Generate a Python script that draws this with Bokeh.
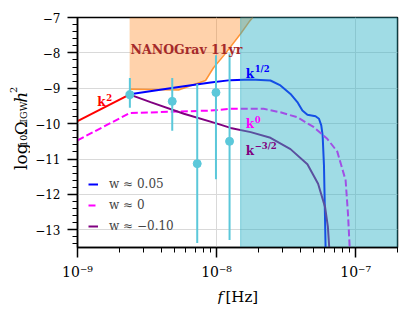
import math
from bokeh.plotting import figure
from bokeh.layouts import row, column
from bokeh.models import (Range1d, Label, Legend, LegendItem, CustomJSTickFormatter,
                          SingleIntervalTicker, LogTicker)
from bokeh.embed import file_html
from bokeh.resources import INLINE

# ---------------- data ----------------
# NANOGrav 11yr bound (lower edge of excluded region)
nano_f = [2.37e-9, 5.33e-9, 8.34e-9, 9.51e-9, 1.13e-8, 1.49e-8, 1.71e-8, 1.82e-8]
nano_y = [-9.03, -9.05, -8.78, -8.42, -8.07, -7.46, -7.13, -7.0]

# k^2 rise
red_f = [1.0e-9, 2.38e-9]
red_y = [-9.93, -9.17]

# w ~ 0.05
blue_f = [2.38e-9, 5.50e-9, 9.06e-9, 1.26e-8, 1.76e-8, 2.44e-8, 2.88e-8, 3.40e-8, 3.81e-8,
          4.14e-8, 4.50e-8, 5.15e-8, 5.45e-8, 5.66e-8, 5.79e-8, 5.92e-8, 6.08e-8]
blue_y = [-9.17, -8.96, -8.84, -8.77, -8.75, -8.78, -8.92, -9.16, -9.39,
          -9.63, -9.75, -9.79, -9.86, -10.05, -10.33, -11.18, -13.5]

# w ~ 0
mag_f = [1.0e-9, 2.38e-9, 9.06e-9, 1.26e-8, 2.18e-8, 2.88e-8, 3.81e-8, 5.01e-8, 6.25e-8,
         7.38e-8, 8.47e-8, 8.81e-8, 9.06e-8]
mag_y = [-10.47, -9.70, -9.63, -9.58, -9.58, -9.68, -9.82, -10.10, -10.43,
         -10.79, -11.6, -12.55, -13.5]

# w ~ -0.10
pur_f = [2.38e-9, 3.35e-9, 5.82e-9, 1.01e-8, 1.26e-8, 1.76e-8, 2.44e-8, 3.40e-8, 4.50e-8,
         5.37e-8, 6.03e-8, 6.31e-8, 6.46e-8]
pur_y = [-9.18, -9.39, -9.72, -10.00, -10.12, -10.24, -10.40, -10.72, -11.15,
         -11.7, -12.36, -12.9, -13.5]

# NANOGrav data points with error bars
pt_f = [2.38e-9, 4.80e-9, 7.26e-9, 9.90e-9, 1.24e-8]
pt_y = [-9.18, -9.37, -11.13, -9.12, -10.50]
pt_lo = [-9.55, -10.20, -13.37, -11.57, -13.29]
pt_hi = [-8.71, -8.71, -8.88, -8.07, -8.02]

# shaded band (frequency bounds)
band_f = [1.49e-8, 2.0e-7]

y_bounds = (-13.5, -7.0)
x_bounds = (1e-9, 2e-7)

FONT = "DejaVu Serif"

p = figure(width=377, height=282, x_axis_type="log",
           x_range=Range1d(*x_bounds), y_range=Range1d(*y_bounds),
           output_backend="svg", toolbar_location=None,
           min_border_left=47, min_border_right=10, min_border_top=17, min_border_bottom=35)

p.background_fill_color = "white"
p.border_fill_color = "white"
p.outline_line_color = "black"
p.outline_line_width = 1.5
p.outline_line_alpha = 1

for g in (p.xgrid, p.ygrid):
    g.grid_line_color = "#d9d9d9"
    g.grid_line_width = 1

p.yaxis.ticker = SingleIntervalTicker(interval=1, num_minor_ticks=5)
p.xaxis.ticker = LogTicker(num_minor_ticks=10)
p.yaxis.formatter = CustomJSTickFormatter(code="return (tick < 0 ? '\\u2212' : '') + Math.abs(Math.round(tick));")
p.xaxis.formatter = CustomJSTickFormatter(code="""
const e = Math.round(Math.log10(tick));
const m = {'-':'\\u207b','0':'\\u2070','1':'\\u00b9','2':'\\u00b2','3':'\\u00b3','4':'\\u2074',
           '5':'\\u2075','6':'\\u2076','7':'\\u2077','8':'\\u2078','9':'\\u2079'};
return '10' + String(e).split('').map(c => m[c]).join('');
""")
for ax in (p.xaxis[0], p.yaxis[0]):
    ax.axis_line_width = 1.5
    ax.axis_line_color = "black"
    ax.major_tick_out = 10
    ax.major_tick_in = 0
    ax.minor_tick_out = 5
    ax.minor_tick_in = 0
    ax.major_tick_line_width = 1.5
    ax.minor_tick_line_width = 1
    ax.major_label_text_font = FONT
    ax.major_label_text_color = "black"
p.yaxis.major_label_text_font_size = "12px"
p.xaxis.major_label_text_font_size = "14px"
p.yaxis.major_label_standoff = 7
p.xaxis.major_label_standoff = 6

# NANOGrav excluded region
p.varea(x=nano_f, y1=nano_y, y2=[y_bounds[1]] * len(nano_f),
        fill_color="#ff7f0e", fill_alpha=0.35)
p.line(nano_f, nano_y, line_color="#ff7f0e", line_alpha=0.8, line_width=1.5)

# curves
p.line(red_f, red_y, line_color="#ff0000", line_width=2)
r_blue = p.line(blue_f, blue_y, line_color="#0000ff", line_width=2)
r_mag = p.line(mag_f, mag_y, line_color="#ff00ff", line_width=2, line_dash="7 3")
r_pur = p.line(pur_f, pur_y, line_color="#800080", line_width=2)

# data points
p.segment(x0=pt_f, y0=pt_lo, x1=pt_f, y1=pt_hi, line_color="#5bc8da", line_width=2)
p.scatter(pt_f, pt_y, size=8, fill_color="#5bc8da", line_color="#5bc8da")

# shaded band on top
p.quad(left=band_f[0], right=band_f[1], bottom=y_bounds[0], top=y_bounds[1],
       fill_color="#2cb1c5", fill_alpha=0.45, line_color="#2cb1c5", line_alpha=0.5, line_width=1)


def lab(fig, x, y, text, size, color="black", style="normal", xo=0, yo=0, angle=0):
    fig.add_layout(Label(x=x, y=y, text=text, x_offset=xo, y_offset=yo,
                         text_font=FONT, text_font_size=size, text_color=color,
                         text_font_style=style, text_baseline="alphabetic", text_align="left",
                         angle=angle))


lab(p, nano_f[0], -7.90, "NANOGrav 11yr", "12.5px", color="#a52a2a", style="bold", xo=1)

lab(p, 1.384e-9, -9.40, "k", "12px", color="#ff0000", style="bold")
lab(p, 1.384e-9, -9.40, "2", "8.5px", color="#ff0000", style="bold", xo=9, yo=5)

lab(p, 1.618e-8, -8.61, "k", "12px", color="#0000ff", style="bold")
lab(p, 1.618e-8, -8.61, "1/2", "8.5px", color="#0000ff", style="bold", xo=9, yo=5)

lab(p, 1.618e-8, -10.01, "k", "12px", color="#ff00ff", style="bold")
lab(p, 1.618e-8, -10.01, "0", "8.5px", color="#ff00ff", style="bold", xo=9, yo=5)

lab(p, 1.618e-8, -10.77, "k", "12px", color="#800080", style="bold")
lab(p, 1.618e-8, -10.77, "\u22123/2", "8.5px", color="#800080", style="bold", xo=9, yo=5)

# legend
legend = Legend(items=[LegendItem(label="w \u2248 0.05", renderers=[r_blue]),
                       LegendItem(label="w \u2248 0", renderers=[r_mag]),
                       LegendItem(label="w \u2248 \u22120.10", renderers=[r_pur])],
                location=(11, 14), orientation="vertical")
legend.border_line_color = None
legend.background_fill_alpha = 0
legend.padding = 0
legend.margin = 0
legend.spacing = 7
legend.glyph_width = 10
legend.glyph_height = 14
legend.label_height = 14
legend.label_standoff = 11
legend.label_text_font = FONT
legend.label_text_font_size = "12px"
p.add_layout(legend, "center")


def blank(w, h):
    f = figure(width=w, height=h, x_range=Range1d(0, w), y_range=Range1d(0, h),
               output_backend="svg", toolbar_location=None, min_border=0)
    f.axis.visible = False
    f.grid.visible = False
    f.outline_line_color = None
    f.background_fill_color = "white"
    f.border_fill_color = "white"
    return f


# y axis label panel (pixel coordinates, y measured from bottom)
ylab = blank(30, 282)
A = math.pi / 2
lab(ylab, 20, 95, "log", "17px", angle=A)
lab(ylab, 23, 123.5, "10", "9.5px", angle=A)
lab(ylab, 20, 137.5, "\u03a9", "17px", angle=A)
lab(ylab, 23, 153, "IGW", "9.5px", angle=A)
lab(ylab, 20, 177.5, "h", "17px", angle=A, style="italic")
lab(ylab, 13, 189.5, "2", "10px", angle=A)

# x axis label panel
xlab = blank(407, 22)
lab(xlab, 217, 8, "f", "15px", style="italic")
lab(xlab, 225, 8, "[Hz]", "15px")

layout = column(row(ylab, p), xlab)
open("out.html", "w").write(file_html(layout, INLINE))
